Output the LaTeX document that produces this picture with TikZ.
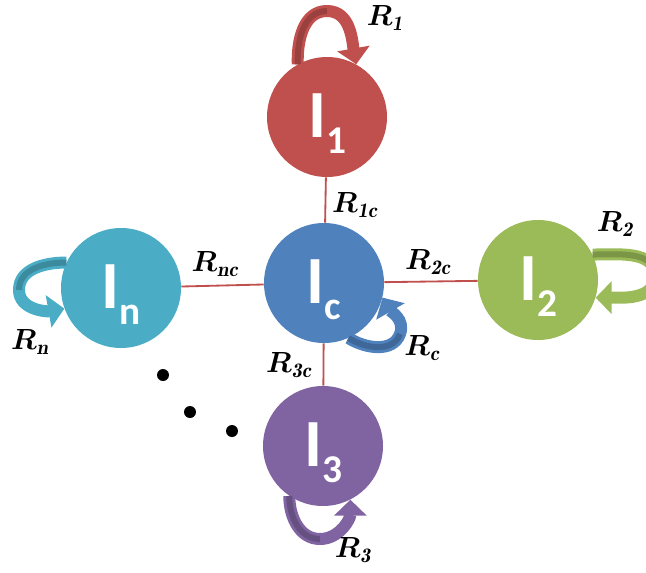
\documentclass[tikz,border=0pt]{standalone}
\usepackage{amsmath}
\usepackage{fontspec}
\usepackage{tikz}
\usetikzlibrary{arrows.meta}
\newfontfamily\ballfont{Carlito}
\definecolor{cred}{HTML}{C0504D}
\definecolor{cblue}{HTML}{4F81BD}
\definecolor{cgreen}{HTML}{9BBB59}
\definecolor{cpurple}{HTML}{8064A2}
\definecolor{caqua}{HTML}{4BACC6}
\newcommand{\ballname}[1]{I\raisebox{-4mm}{\fontsize{28}{28}\selectfont #1}}
\tikzset{
  ball/.style={circle, fill=#1, minimum size=30mm, inner sep=0pt, text=white,
    text height=14mm, text depth=4mm, font=\ballfont\bfseries\fontsize{48}{48}\selectfont},
  link/.style={draw=cred, line width=1.3pt},
  selfarr/.style={draw=#1, line width=3mm, -{Triangle[width=8mm,length=4mm]}},
  underside/.style={draw=#1!80!black, line width=1.5mm},
  lbl/.style={font=\fontsize{21}{23}\selectfont, inner sep=1pt},
  blackdot/.style={circle, fill=black, minimum size=3mm, inner sep=0pt}
}

\begin{document}
\begin{tikzpicture}[x=0.25mm, y=-0.25mm]
\useasboundingbox (0,0) rectangle (646,572);

% states
\node[ball=cred] (I1) at (327,117) {\ballname{1}};
\node[ball=cblue] (Ic) at (324,283) {\ballname{c}};
\node[ball=cgreen] (I2) at (538,280) {\ballname{2}};
\node[ball=caqua] (In) at (121,288) {\ballname{n}};
\node[ball=cpurple] (I3) at (323,446) {\ballname{3}};

% couplings to the centre
\draw[link] (I1) -- (Ic);
\draw[link] (Ic) -- (I2);
\draw[link] (In) -- (Ic);
\draw[link] (Ic) -- (I3);

% self loops
\coordinate (t1) at (327,11);
\coordinate (tn) at (19,290);
\coordinate (t2) at (655,276);
\coordinate (tc) at (400,334);
\coordinate (t3) at (320,539);
\draw[selfarr=cred] (I1.119) to[out=92,in=180] (t1) to[out=0,in=100] (I1.61);
\draw[underside=cred] (I1.119) to[out=92,in=180] (t1);
\draw[selfarr=caqua] (In.155) to[out=180,in=90] (tn) to[out=-90,in=190] (In.200);
\draw[underside=caqua] (In.155) to[out=180,in=90] (tn);
\draw[selfarr=cgreen] (I2.25) to[out=0,in=90] (t2) to[out=-90,in=0] (I2.-17);
\draw[underside=cgreen] (I2.25) to[out=0,in=90] (t2);
\draw[selfarr=cblue] (Ic.-66) to[out=-32,in=-110] (tc) to[out=70,in=-60] (Ic.-14);
\draw[underside=cblue] (Ic.-66) to[out=-32,in=-110] (tc);
\draw[selfarr=cpurple] (I3.-124) to[out=-90,in=180] (t3) to[out=0,in=-90] (I3.-63);
\draw[underside=cpurple] (I3.-124) to[out=-90,in=180] (t3);

% rates
\node[lbl] (r1) at (385,18) {$\boldsymbol{R_{\mathit{1}}}$};
\node[lbl] (r1c) at (355,205) {$\boldsymbol{R_{\mathit{1c}}}$};
\node[lbl] (rnc) at (215,264) {$\boldsymbol{R_{\mathit{nc}}}$};
\node[lbl] (r2c) at (428,262) {$\boldsymbol{R_{\mathit{2c}}}$};
\node[lbl] (r2) at (615,224) {$\boldsymbol{R_{\mathit{2}}}$};
\node[lbl] (rn) at (30,342) {$\boldsymbol{R_{\mathit{n}}}$};
\node[lbl] (rc) at (422,348) {$\boldsymbol{R_{\mathit{c}}}$};
\node[lbl] (r3c) at (289,365) {$\boldsymbol{R_{\mathit{3c}}}$};
\node[lbl] (r3) at (353,550) {$\boldsymbol{R_{\mathit{3}}}$};

% ellipsis
\node[blackdot] (d1) at (163,375) {};
\node[blackdot] (d2) at (190,412) {};
\node[blackdot] (d3) at (232,431) {};
\end{tikzpicture}
\end{document}
